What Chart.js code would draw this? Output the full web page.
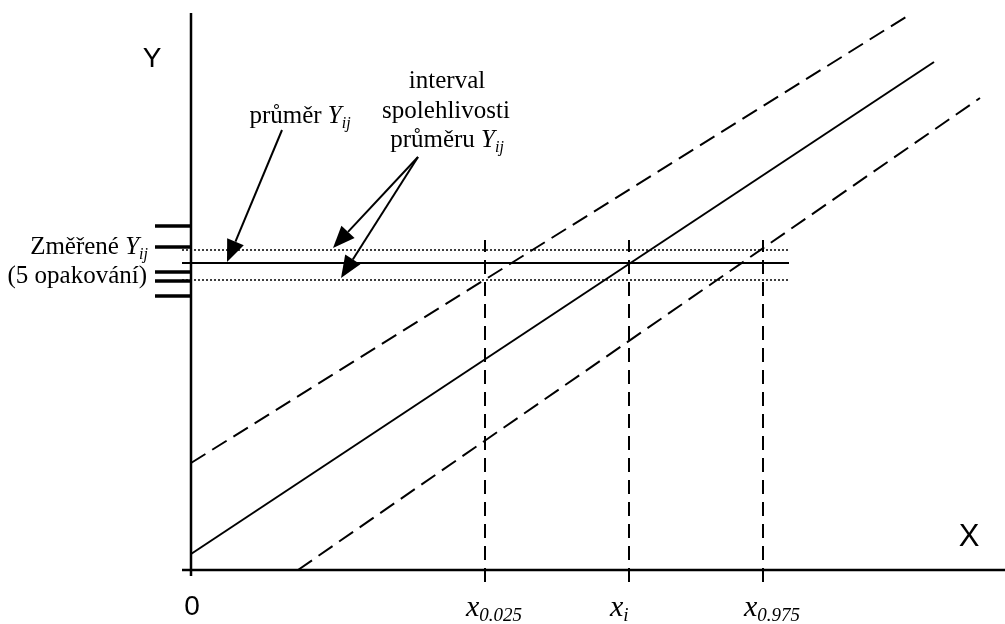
<!DOCTYPE html>
<html>
<head>
<meta charset="utf-8">
<script src="https://cdn.jsdelivr.net/npm/chart.js@4/dist/chart.umd.min.js"></script>
<style>
  body { margin: 0; background: #fff; }
  canvas { display: block; }
</style>
</head>
<body>
<canvas id="calib" width="1005" height="624"></canvas>
<script>
// values in plot units (1 unit = 10 px of the original drawing)
const replicatesY = [34.4, 32.3, 29.8, 28.9, 27.4];   // 5 measured Y_ij
const meanY = 30.7;
const ciY = [29.0, 32.0];                             // interval spolehlivosti
const hLineX = [-0.9, 59.8];

const calibX = [0, 74.3];
const calibY = [1.6, 50.8];
const upperX = [0, 71.8];
const upperY = [10.7, 55.5];
const lowerX = [10.7, 78.9];
const lowerY = [0, 47.2];

const xMarks = [29.4, 43.8, 57.2];
const xMarkSubs = ['0.025', 'i', '0.975'];
const xMarkTop = 33.0;

// arrows: [fromX, fromY, toX, toY]
const arrows = [
  [9.1, 44.0, 3.6, 30.8],
  [22.7, 41.3, 14.2, 32.2],
  [22.7, 41.3, 15.0, 29.2]
];

const serif = '"Liberation Serif", "Times New Roman", serif';
const sans = '"Liberation Sans", Arial, sans-serif';

function seg(x, y, width, dash) {
  return {
    data: x.map((v, i) => ({ x: v, y: y[i] })),
    borderColor: '#000',
    borderWidth: width,
    borderDash: dash || [],
    pointRadius: 0,
    showLine: true,
    fill: false,
    clip: false
  };
}

const datasets = [
  seg([-0.9, 81.4], [0, 0], 2.5),          // x axis
  seg([0, 0], [-0.6, 55.7], 2.5),          // y axis
  seg(calibX, calibY, 2),
  seg(upperX, upperY, 2, [17, 8]),
  seg(lowerX, lowerY, 2, [17, 8]),
  seg(hLineX, [meanY, meanY], 2),
  seg(hLineX, [ciY[0], ciY[0]], 1.5, [2, 2]),
  seg(hLineX, [ciY[1], ciY[1]], 1.5, [2, 2])
];
replicatesY.forEach(y => datasets.push(seg([-3.6, 0], [y, y], 3.5)));
xMarks.forEach(x => datasets.push(seg([x, x], [-1.2, xMarkTop], 2, [14, 8])));

// text made of pieces: [text, font, dy]
function drawRich(ctx, parts, x, y, align) {
  let w = 0;
  parts.forEach(p => { ctx.font = p[1]; w += ctx.measureText(p[0]).width; });
  let cx = align === 'right' ? x - w : align === 'center' ? x - w / 2 : x;
  parts.forEach(p => {
    ctx.font = p[1];
    ctx.fillText(p[0], cx, y + (p[2] || 0));
    cx += ctx.measureText(p[0]).width;
  });
}

const labelsPlugin = {
  id: 'labels',
  afterDatasetsDraw(chart) {
    const ctx = chart.ctx;
    const sx = chart.scales.x, sy = chart.scales.y;
    ctx.save();
    ctx.fillStyle = '#000';
    ctx.strokeStyle = '#000';
    ctx.textBaseline = 'alphabetic';

    // arrows
    arrows.forEach(a => {
      const x1 = sx.getPixelForValue(a[0]), y1 = sy.getPixelForValue(a[1]);
      const x2 = sx.getPixelForValue(a[2]), y2 = sy.getPixelForValue(a[3]);
      const len = Math.hypot(x2 - x1, y2 - y1);
      const ux = (x2 - x1) / len, uy = (y2 - y1) / len;
      const bx = x2 - ux * 22, by = y2 - uy * 22;
      ctx.lineWidth = 2;
      ctx.beginPath();
      ctx.moveTo(x1, y1);
      ctx.lineTo(bx, by);
      ctx.stroke();
      ctx.beginPath();
      ctx.moveTo(x2, y2);
      ctx.lineTo(bx - uy * 9, by + ux * 9);
      ctx.lineTo(bx + uy * 9, by - ux * 9);
      ctx.closePath();
      ctx.fill();
    });

    const f = '25px ' + serif, fi = 'italic 25px ' + serif, fs = 'italic 16px ' + serif;
    drawRich(ctx, [['průměr ', f], ['Y', fi], ['ij', fs, 5]], 300, 123, 'center');
    drawRich(ctx, [['interval', f]], 447, 88, 'center');
    drawRich(ctx, [['spolehlivosti', f]], 446, 118, 'center');
    drawRich(ctx, [['průměru ', f], ['Y', fi], ['ij', fs, 5]], 447, 147, 'center');
    drawRich(ctx, [['Změřené ', f], ['Y', fi], ['ij', fs, 5]], 148, 254, 'right');
    drawRich(ctx, [['(5 opakování)', f]], 147, 283, 'right');

    // axis names
    ctx.textAlign = 'center';
    ctx.font = '28px ' + sans;
    ctx.fillText('Y', 152, 67);
    ctx.fillText('0', sx.getPixelForValue(0) + 1, 615);
    ctx.font = '31px ' + sans;
    ctx.fillText('X', 969, 546);
    ctx.textAlign = 'left';

    xMarks.forEach((x, i) => {
      const px = sx.getPixelForValue(x);
      drawRich(ctx, [['x', 'italic 30px ' + serif], [xMarkSubs[i], 'italic 19px ' + serif, 5]], px - 19, 616, 'left');
    });
    ctx.restore();
  }
};

new Chart(document.getElementById('calib'), {
  type: 'scatter',
  data: { datasets },
  options: {
    responsive: false,
    animation: false,
    layout: { padding: 0 },
    plugins: { legend: { display: false }, tooltip: { enabled: false } },
    scales: {
      x: { type: 'linear', display: false, min: -19.1, max: 81.4 },
      y: { type: 'linear', display: false, min: -5.4, max: 57.0 }
    }
  },
  plugins: [labelsPlugin]
});
</script>
</body>
</html>
